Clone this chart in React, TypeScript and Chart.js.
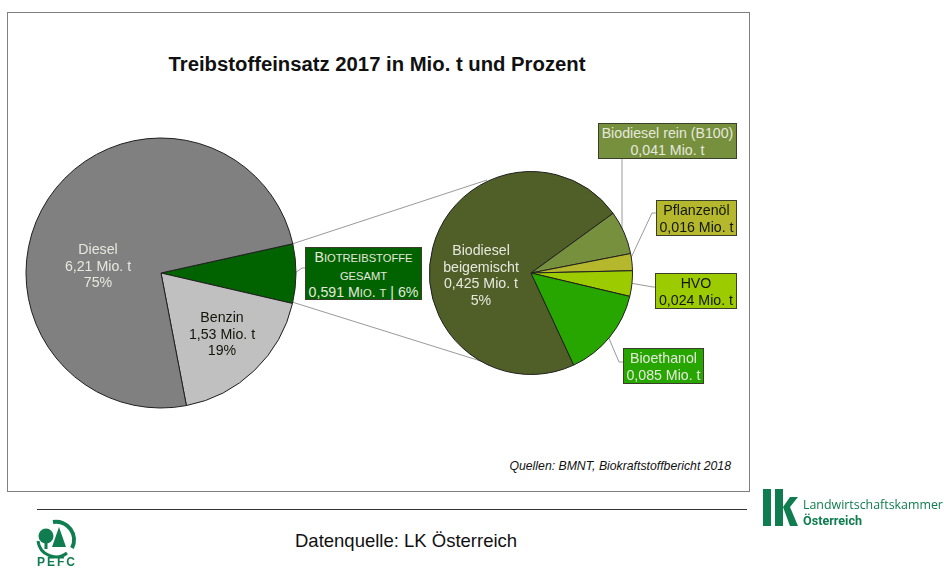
import React, { useEffect, useRef } from "react";
import { Chart, registerables } from "chart.js";

Chart.register(...registerables);

const mainCategories = ["Biotreibstoffe gesamt", "Benzin", "Diesel"];
const mainValues = [0.591, 1.53, 6.21];
const mainColors = ["#006300", "#c0c0c0", "#808080"];

const bioCategories = ["Biodiesel beigemischt", "Biodiesel rein (B100)", "Pflanzenöl", "HVO", "Bioethanol"];
const bioValues = [0.425, 0.041, 0.016, 0.024, 0.085];
const bioColors = ["#505f28", "#76903e", "#b5b82c", "#9ccb00", "#27a600"];

const FONT = '"Liberation Sans", Arial, sans-serif';

type PieProps = { left: number; top: number; size: number; radius: number; rotation: number; labels: string[]; values: number[]; colors: string[] };

function Pie({ left, top, size, radius, rotation, labels, values, colors }: PieProps) {
  const ref = useRef<HTMLCanvasElement>(null);
  useEffect(() => {
    const chart = new Chart(ref.current!, {
      type: "pie",
      data: { labels, datasets: [{ data: values, backgroundColor: colors, borderColor: "#1f1f1f", borderWidth: 1, radius }] },
      options: {
        responsive: false,
        animation: false,
        rotation,
        layout: { padding: 0 },
        plugins: { legend: { display: false }, tooltip: { enabled: false }, title: { display: false } },
      },
    } as any);
    return () => chart.destroy();
  }, []);
  return <canvas ref={ref} width={size} height={size} style={{ position: "absolute", left, top, width: size, height: size }} />;
}

function Text({ x, y, w, color, children, size = 14.2, lh = 16.6, align = "center", style }: any) {
  return (
    <div style={{ position: "absolute", left: x, top: y, width: w, color, fontSize: size, lineHeight: `${lh}px`, textAlign: align, fontFamily: FONT, whiteSpace: "nowrap", ...style }}>
      {children}
    </div>
  );
}

function Box({ x, y, w, h, bg, color, children }: any) {
  return (
    <div style={{ position: "absolute", left: x, top: y, width: w, height: h, boxSizing: "border-box", background: bg, border: "1px solid #3a3f2a", color, fontSize: 14.2, lineHeight: "16.6px", textAlign: "center", fontFamily: FONT, whiteSpace: "nowrap", paddingTop: 1 }}>
      {children}
    </div>
  );
}

const Caps = ({ children }: any) => <span style={{ fontSize: 11.2 }}>{children}</span>;

export default function App() {
  const light = "#e6e8de";
  const dark = "#14160a";
  const logo = "#0f7d4f";
  return (
    <div style={{ position: "fixed", left: 0, top: 0, width: 944, height: 570, background: "#fff", overflow: "hidden" }}>
      <div style={{ position: "absolute", left: 7, top: 12, width: 743, height: 480, boxSizing: "border-box", border: "1px solid #808080" }} />

      <Text x={7} y={50} w={740} color="#111" size={20.3} lh={28} style={{ fontWeight: 700 }}>
        Treibstoffeinsatz 2017 in Mio. t und Prozent
      </Text>

      <svg width={944} height={570} style={{ position: "absolute", left: 0, top: 0 }}>
        <g fill="none" stroke="#9a9a9a" strokeWidth={1}>
          <polyline points="292,244 487,180" />
          <polyline points="292,302 487,363" />
          <polyline points="295,273 302,268 305,268" />
          <polyline points="622,158 622,234" />
          <polyline points="630,260 652,213 656,213" />
          <polyline points="630,283 653,287 655,287" />
          <polyline points="608,336 619,362 623,362" />
        </g>
      </svg>

      <Pie left={11} top={123} size={300} radius={135} rotation={77.5} labels={mainCategories} values={mainValues} colors={mainColors} />
      <Pie left={421} top={163} size={220} radius={101.5} rotation={155.1} labels={bioCategories} values={bioValues} colors={bioColors} />

      <Text x={38} y={241} w={120} color={light}>Diesel<br />6,21 Mio. t<br />75%</Text>
      <Text x={162} y={309} w={120} color={dark}>Benzin<br />1,53 Mio. t<br />19%</Text>
      <Text x={421} y={242} w={120} color={light}>Biodiesel<br />beigemischt<br />0,425 Mio. t<br />5%</Text>

      <Box x={305} y={247} w={117} h={53} bg="#006300" color={light}>
        <span>B<Caps>IOTREIBSTOFFE</Caps><br /><Caps>GESAMT</Caps><br />0,591 M<Caps>IO</Caps>. <Caps>T</Caps> | 6%</span>
      </Box>
      <Box x={598} y={123} w={139} h={36} bg="#76903e" color={light}>Biodiesel rein (B100)<br />0,041 Mio. t</Box>
      <Box x={656} y={200} w={81} h={36} bg="#b5b82c" color={dark}>Pflanzenöl<br />0,016 Mio. t</Box>
      <Box x={655} y={273} w={82} h={36} bg="#9ccb00" color={dark}>HVO<br />0,024 Mio. t</Box>
      <Box x={623} y={348} w={81} h={36} bg="#27a600" color={light}>Bioethanol<br />0,085 Mio. t</Box>

      <Text x={431} y={458} w={300} color="#111" size={12.25} lh={16} align="right" style={{ fontStyle: "italic" }}>
        Quellen: BMNT, Biokraftstoffbericht 2018
      </Text>

      <div style={{ position: "absolute", left: 37, top: 509, width: 710, height: 1, background: "#333" }} />

      <Text x={295} y={530} w={240} color="#111" size={18.5} lh={22} align="left">Datenquelle: LK Österreich</Text>

      <svg width={944} height={570} style={{ position: "absolute", left: 0, top: 0 }}>
        <g fill={logo}>
          <rect x={763} y={489} width={8} height={37} />
          <rect x={775} y={489} width={8} height={37} />
          <polygon points="783,507 790,497 798,497 790,507 798,526 790,526" />
          <circle cx={46} cy={536} r={7.5} />
          <rect x={44.5} y={540} width={3} height={9} />
          <polygon points="59,527 66,547 52,547" />
        </g>
        <g fill="none" stroke={logo}>
          <path d="M53 522 A18 18 0 0 1 72 548" strokeWidth={4} />
          <path d="M38 541 A18 18 0 0 0 67 553" strokeWidth={3} />
        </g>
      </svg>
      <Text x={37} y={556} w={40} color={logo} size={12} lh={13} align="left" style={{ fontWeight: 700, letterSpacing: 2 }}>PEFC</Text>
      <div style={{ position: "absolute", left: 803, top: 497, color: logo, fontFamily: '"Open Sans", sans-serif', fontSize: 12.4, lineHeight: "16px", whiteSpace: "nowrap" }}>Landwirtschaftskammer</div>
      <div style={{ position: "absolute", left: 803, top: 513, color: logo, fontFamily: 'Roboto, sans-serif', fontSize: 12.6, lineHeight: "16px", fontWeight: 700, whiteSpace: "nowrap" }}>Österreich</div>
    </div>
  );
}
